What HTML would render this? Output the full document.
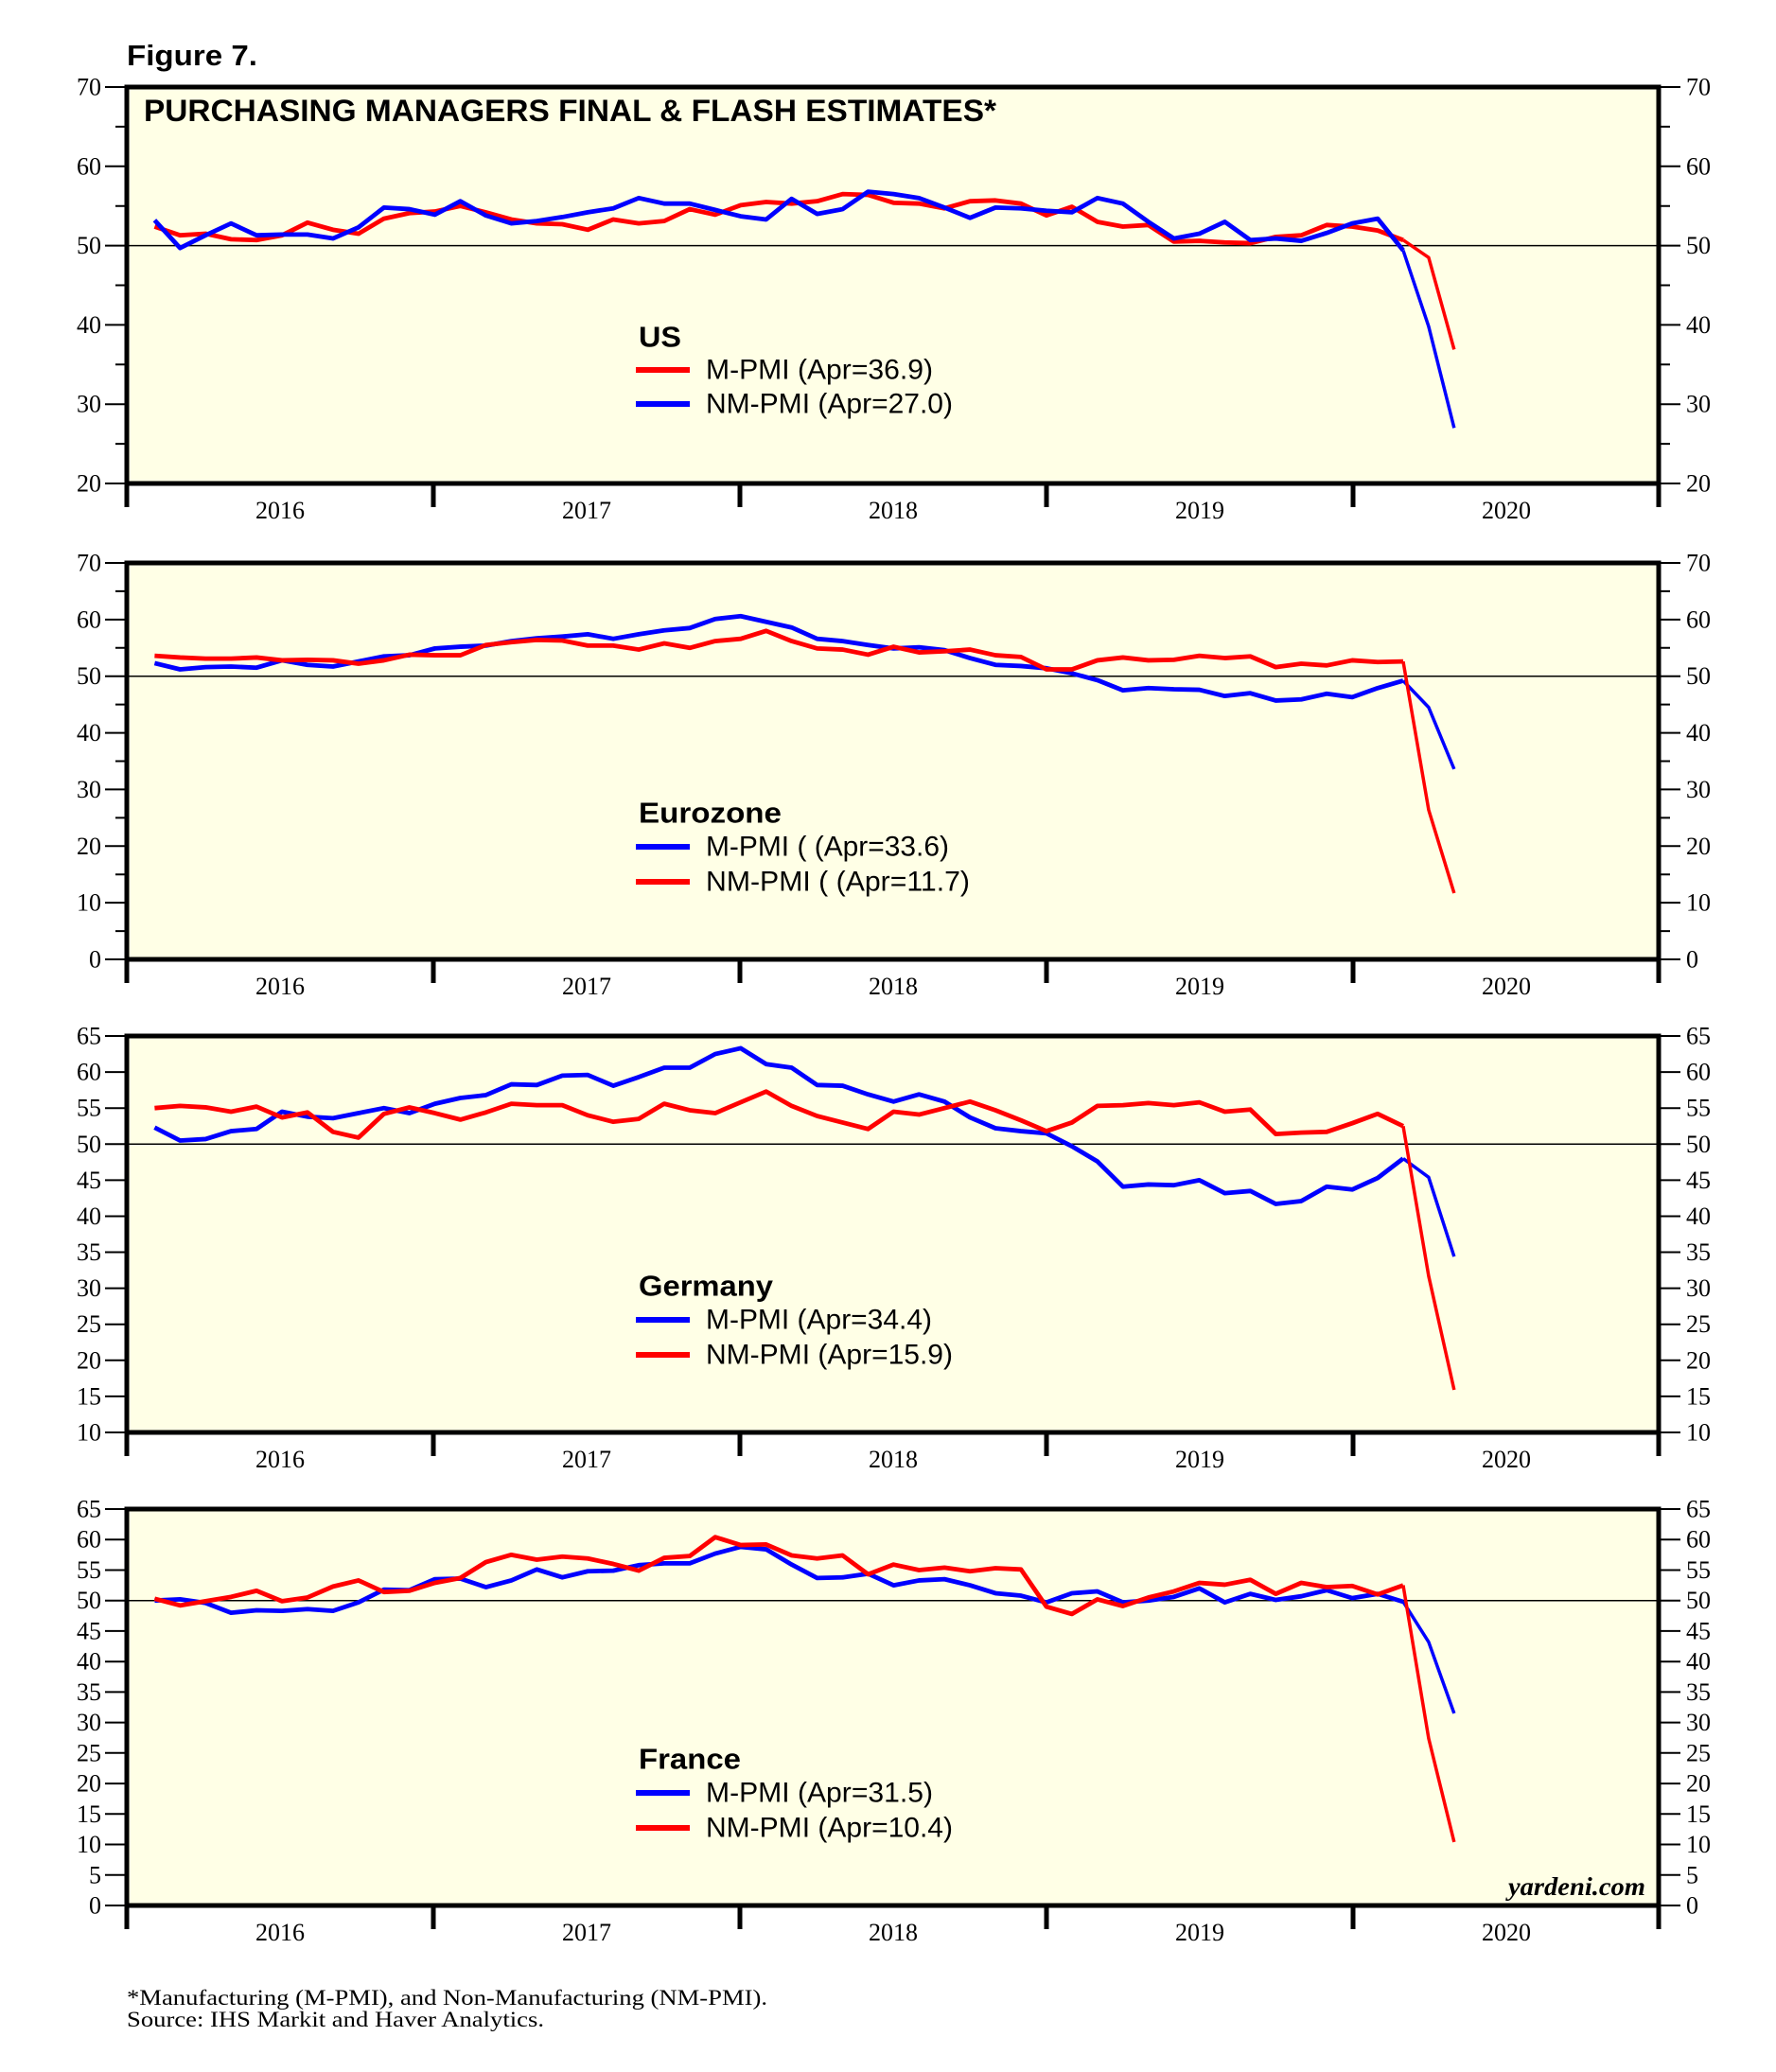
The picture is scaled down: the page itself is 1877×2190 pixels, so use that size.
<!DOCTYPE html>
<html><head><meta charset="utf-8"><style>
html,body{margin:0;padding:0;background:#fff;}
svg{display:block;}
.ax{font-family:"Liberation Serif",serif;font-size:26px;fill:#000;}
.lg{font-family:"Liberation Sans",sans-serif;font-size:30px;fill:#000;}
.lt{font-family:"Liberation Sans",sans-serif;font-size:31px;font-weight:bold;fill:#000;}
.s{fill:none;stroke-linejoin:round;stroke-linecap:butt;}
</style></head><body>
<svg width="1877" height="2190" viewBox="0 0 1877 2190" xmlns="http://www.w3.org/2000/svg">
<rect width="1877" height="2190" fill="#fff"/>
<text x="134" y="69" font-family="Liberation Sans, sans-serif" font-weight="bold" font-size="31" textLength="138" lengthAdjust="spacingAndGlyphs">Figure 7.</text>

<rect x="134" y="92" width="1619" height="419" fill="#FFFFE6"/>
<rect x="134" y="595" width="1619" height="419" fill="#FFFFE6"/>
<rect x="134" y="1095" width="1619" height="419" fill="#FFFFE6"/>
<rect x="134" y="1595" width="1619" height="419" fill="#FFFFE6"/>

<g stroke="#000" stroke-width="1.5">
<line x1="134" x2="1753" y1="259.6" y2="259.6"/>
<line x1="134" x2="1753" y1="714.7" y2="714.7"/>
<line x1="134" x2="1753" y1="1209.3" y2="1209.3"/>
<line x1="134" x2="1753" y1="1691.7" y2="1691.7"/>
</g>

<g transform="matrix(26.93 0 0 -8.38 163.4 678.6)">
<polyline class="s" vector-effect="non-scaling-stroke" stroke="#FF0000" stroke-width="4.8" points="0,52.4 1,51.3 2,51.5 3,50.8 4,50.7 5,51.3 6,52.9 7,52.0 8,51.5 9,53.4 10,54.1 11,54.3 12,55.0 13,54.2 14,53.3 15,52.8 16,52.7 17,52.0 18,53.3 19,52.8 20,53.1 21,54.6 22,53.9 23,55.1 24,55.5 25,55.3 26,55.6 27,56.5 28,56.4 29,55.4 30,55.3 31,54.7 32,55.6 33,55.7 34,55.3 35,53.8 36,54.9 37,53.0 38,52.4 39,52.6 40,50.5 41,50.6 42,50.4 43,50.3 44,51.1 45,51.3 46,52.6 47,52.4 48,51.9 49,50.7"/>
<polyline class="s" vector-effect="non-scaling-stroke" stroke="#FF0000" stroke-width="3.5" points="49,50.7 50,48.5 51,36.9"/>
<polyline class="s" vector-effect="non-scaling-stroke" stroke="#0000FF" stroke-width="4.8" points="0,53.2 1,49.7 2,51.3 3,52.8 4,51.3 5,51.4 6,51.4 7,50.9 8,52.3 9,54.8 10,54.6 11,53.9 12,55.6 13,53.8 14,52.8 15,53.1 16,53.6 17,54.2 18,54.7 19,56.0 20,55.3 21,55.3 22,54.5 23,53.7 24,53.3 25,55.9 26,54.0 27,54.6 28,56.8 29,56.5 30,56.0 31,54.8 32,53.5 33,54.8 34,54.7 35,54.4 36,54.2 37,56.0 38,55.3 39,53.0 40,50.9 41,51.5 42,53.0 43,50.7 44,50.9 45,50.6 46,51.6 47,52.8 48,53.4 49,49.4"/>
<polyline class="s" vector-effect="non-scaling-stroke" stroke="#0000FF" stroke-width="3.5" points="49,49.4 50,39.8 51,27.0"/>
</g>

<g transform="matrix(26.93 0 0 -5.986 163.4 1014)">
<polyline class="s" vector-effect="non-scaling-stroke" stroke="#0000FF" stroke-width="4.8" points="0,52.3 1,51.2 2,51.6 3,51.7 4,51.5 5,52.8 6,52.0 7,51.7 8,52.6 9,53.5 10,53.7 11,54.9 12,55.2 13,55.4 14,56.2 15,56.7 16,57.0 17,57.4 18,56.6 19,57.4 20,58.1 21,58.5 22,60.1 23,60.6 24,59.6 25,58.6 26,56.6 27,56.2 28,55.5 29,54.9 30,55.1 31,54.6 32,53.2 33,52.0 34,51.8 35,51.4 36,50.5 37,49.3 38,47.5 39,47.9 40,47.7 41,47.6 42,46.5 43,47.0 44,45.7 45,45.9 46,46.9 47,46.3 48,47.9 49,49.2"/>
<polyline class="s" vector-effect="non-scaling-stroke" stroke="#0000FF" stroke-width="3.5" points="49,49.2 50,44.5 51,33.6"/>
<polyline class="s" vector-effect="non-scaling-stroke" stroke="#FF0000" stroke-width="4.8" points="0,53.6 1,53.3 2,53.1 3,53.1 4,53.3 5,52.8 6,52.9 7,52.8 8,52.2 9,52.8 10,53.8 11,53.7 12,53.7 13,55.5 14,56.0 15,56.4 16,56.3 17,55.4 18,55.4 19,54.7 20,55.8 21,55.0 22,56.2 23,56.6 24,58.0 25,56.2 26,54.9 27,54.7 28,53.8 29,55.2 30,54.2 31,54.4 32,54.7 33,53.7 34,53.4 35,51.2 36,51.2 37,52.8 38,53.3 39,52.8 40,52.9 41,53.6 42,53.2 43,53.5 44,51.6 45,52.2 46,51.9 47,52.8 48,52.5 49,52.6"/>
<polyline class="s" vector-effect="non-scaling-stroke" stroke="#FF0000" stroke-width="3.5" points="49,52.6 50,26.4 51,11.7"/>
</g>

<g transform="matrix(26.93 0 0 -7.618 163.4 1590.18)">
<polyline class="s" vector-effect="non-scaling-stroke" stroke="#0000FF" stroke-width="4.8" points="0,52.3 1,50.5 2,50.7 3,51.8 4,52.1 5,54.5 6,53.8 7,53.6 8,54.3 9,55.0 10,54.3 11,55.6 12,56.4 13,56.8 14,58.3 15,58.2 16,59.5 17,59.6 18,58.1 19,59.3 20,60.6 21,60.6 22,62.5 23,63.3 24,61.1 25,60.6 26,58.2 27,58.1 28,56.9 29,55.9 30,56.9 31,55.9 32,53.7 33,52.2 34,51.8 35,51.5 36,49.7 37,47.6 38,44.1 39,44.4 40,44.3 41,45.0 42,43.2 43,43.5 44,41.7 45,42.1 46,44.1 47,43.7 48,45.3 49,48.0"/>
<polyline class="s" vector-effect="non-scaling-stroke" stroke="#0000FF" stroke-width="3.5" points="49,48.0 50,45.4 51,34.4"/>
<polyline class="s" vector-effect="non-scaling-stroke" stroke="#FF0000" stroke-width="4.8" points="0,55.0 1,55.3 2,55.1 3,54.5 4,55.2 5,53.7 6,54.4 7,51.7 8,50.9 9,54.2 10,55.1 11,54.3 12,53.4 13,54.4 14,55.6 15,55.4 16,55.4 17,54.0 18,53.1 19,53.5 20,55.6 21,54.7 22,54.3 23,55.8 24,57.3 25,55.3 26,53.9 27,53.0 28,52.1 29,54.5 30,54.1 31,55.0 32,55.9 33,54.7 34,53.3 35,51.8 36,53.0 37,55.3 38,55.4 39,55.7 40,55.4 41,55.8 42,54.5 43,54.8 44,51.4 45,51.6 46,51.7 47,52.9 48,54.2 49,52.5"/>
<polyline class="s" vector-effect="non-scaling-stroke" stroke="#FF0000" stroke-width="3.5" points="49,52.5 50,31.7 51,15.9"/>
</g>

<g transform="matrix(26.93 0 0 -6.446 163.4 2014)">
<polyline class="s" vector-effect="non-scaling-stroke" stroke="#0000FF" stroke-width="4.8" points="0,50.0 1,50.2 2,49.6 3,48.0 4,48.4 5,48.3 6,48.6 7,48.3 8,49.7 9,51.8 10,51.7 11,53.5 12,53.6 13,52.2 14,53.3 15,55.1 16,53.8 17,54.8 18,54.9 19,55.8 20,56.1 21,56.1 22,57.7 23,58.8 24,58.4 25,55.9 26,53.7 27,53.8 28,54.4 29,52.5 30,53.3 31,53.5 32,52.5 33,51.2 34,50.8 35,49.7 36,51.2 37,51.5 38,49.7 39,50.0 40,50.6 41,52.0 42,49.7 43,51.1 44,50.1 45,50.7 46,51.7 47,50.4 48,51.1 49,49.8"/>
<polyline class="s" vector-effect="non-scaling-stroke" stroke="#0000FF" stroke-width="3.5" points="49,49.8 50,43.2 51,31.5"/>
<polyline class="s" vector-effect="non-scaling-stroke" stroke="#FF0000" stroke-width="4.8" points="0,50.3 1,49.2 2,49.9 3,50.6 4,51.6 5,49.9 6,50.5 7,52.3 8,53.3 9,51.4 10,51.6 11,52.9 12,53.7 13,56.3 14,57.5 15,56.7 16,57.2 17,56.9 18,56.0 19,54.9 20,57.0 21,57.3 22,60.4 23,59.1 24,59.2 25,57.4 26,56.9 27,57.4 28,54.3 29,55.9 30,55.0 31,55.4 32,54.8 33,55.3 34,55.1 35,49.0 36,47.8 37,50.2 38,49.1 39,50.5 40,51.5 41,52.9 42,52.6 43,53.4 44,51.1 45,52.9 46,52.2 47,52.4 48,51.0 49,52.5"/>
<polyline class="s" vector-effect="non-scaling-stroke" stroke="#FF0000" stroke-width="3.5" points="49,52.5 50,27.4 51,10.4"/>
</g>

<g fill="none" stroke="#000" stroke-width="5">
<rect x="134" y="92" width="1619" height="419"/>
<rect x="134" y="595" width="1619" height="419"/>
<rect x="134" y="1095" width="1619" height="419"/>
<rect x="134" y="1595" width="1619" height="419"/>
</g>

<g stroke="#000" stroke-width="5">
<path d="M134 511V536M458 511V536M782 511V536M1106 511V536M1430 511V536M1753 511V536"/>
<path d="M134 1014V1039M458 1014V1039M782 1014V1039M1106 1014V1039M1430 1014V1039M1753 1014V1039"/>
<path d="M134 1514V1539M458 1514V1539M782 1514V1539M1106 1514V1539M1430 1514V1539M1753 1514V1539"/>
<path d="M134 2014V2039M458 2014V2039M782 2014V2039M1106 2014V2039M1430 2014V2039M1753 2014V2039"/>
</g>
<g class="ax" text-anchor="middle">
<text x="296" y="548">2016</text><text x="620" y="548">2017</text><text x="944" y="548">2018</text><text x="1268" y="548">2019</text><text x="1592" y="548">2020</text>
<text x="296" y="1051">2016</text><text x="620" y="1051">2017</text><text x="944" y="1051">2018</text><text x="1268" y="1051">2019</text><text x="1592" y="1051">2020</text>
<text x="296" y="1551">2016</text><text x="620" y="1551">2017</text><text x="944" y="1551">2018</text><text x="1268" y="1551">2019</text><text x="1592" y="1551">2020</text>
<text x="296" y="2051">2016</text><text x="620" y="2051">2017</text><text x="944" y="2051">2018</text><text x="1268" y="2051">2019</text><text x="1592" y="2051">2020</text>
</g>

<g stroke="#000" stroke-width="2">
<path d="M111 92H134M122 133.9H134M111 175.8H134M122 217.7H134M111 259.6H134M122 301.5H134M111 343.4H134M122 385.3H134M111 427.2H134M122 469.1H134M111 511H134"/>
<path d="M1753 92H1776M1753 133.9H1765M1753 175.8H1776M1753 217.7H1765M1753 259.6H1776M1753 301.5H1765M1753 343.4H1776M1753 385.3H1765M1753 427.2H1776M1753 469.1H1765M1753 511H1776"/>
<path d="M111 595H134M122 624.9H134M111 654.9H134M122 684.8H134M111 714.7H134M122 744.6H134M111 774.6H134M122 804.5H134M111 834.4H134M122 864.4H134M111 894.3H134M122 924.2H134M111 954.1H134M122 984.1H134M111 1014H134"/>
<path d="M1753 595H1776M1753 624.9H1765M1753 654.9H1776M1753 684.8H1765M1753 714.7H1776M1753 744.6H1765M1753 774.6H1776M1753 804.5H1765M1753 834.4H1776M1753 864.4H1765M1753 894.3H1776M1753 924.2H1765M1753 954.1H1776M1753 984.1H1765M1753 1014H1776"/>
<path d="M111 1095H134M111 1133.1H134M111 1171.2H134M111 1209.3H134M111 1247.4H134M111 1285.5H134M111 1323.5H134M111 1361.6H134M111 1399.7H134M111 1437.8H134M111 1475.9H134M111 1514H134"/>
<path d="M1753 1095H1776M1753 1133.1H1776M1753 1171.2H1776M1753 1209.3H1776M1753 1247.4H1776M1753 1285.5H1776M1753 1323.5H1776M1753 1361.6H1776M1753 1399.7H1776M1753 1437.8H1776M1753 1475.9H1776M1753 1514H1776"/>
<path d="M111 1595H134M111 1627.2H134M111 1659.5H134M111 1691.7H134M111 1723.9H134M111 1756.2H134M111 1788.4H134M111 1820.6H134M111 1852.8H134M111 1885.1H134M111 1917.3H134M111 1949.5H134M111 1981.8H134M111 2014H134"/>
<path d="M1753 1595H1776M1753 1627.2H1776M1753 1659.5H1776M1753 1691.7H1776M1753 1723.9H1776M1753 1756.2H1776M1753 1788.4H1776M1753 1820.6H1776M1753 1852.8H1776M1753 1885.1H1776M1753 1917.3H1776M1753 1949.5H1776M1753 1981.8H1776M1753 2014H1776"/>
</g>

<g class="ax" dominant-baseline="central">
<g text-anchor="end">
<text x="107" y="92">70</text><text x="107" y="175.8">60</text><text x="107" y="259.6">50</text><text x="107" y="343.4">40</text><text x="107" y="427.2">30</text><text x="107" y="511">20</text>
<text x="107" y="595">70</text><text x="107" y="654.9">60</text><text x="107" y="714.7">50</text><text x="107" y="774.6">40</text><text x="107" y="834.4">30</text><text x="107" y="894.3">20</text><text x="107" y="954.1">10</text><text x="107" y="1014">0</text>
<text x="107" y="1095">65</text><text x="107" y="1133.1">60</text><text x="107" y="1171.2">55</text><text x="107" y="1209.3">50</text><text x="107" y="1247.4">45</text><text x="107" y="1285.5">40</text><text x="107" y="1323.5">35</text><text x="107" y="1361.6">30</text><text x="107" y="1399.7">25</text><text x="107" y="1437.8">20</text><text x="107" y="1475.9">15</text><text x="107" y="1514">10</text>
<text x="107" y="1595">65</text><text x="107" y="1627.2">60</text><text x="107" y="1659.5">55</text><text x="107" y="1691.7">50</text><text x="107" y="1723.9">45</text><text x="107" y="1756.2">40</text><text x="107" y="1788.4">35</text><text x="107" y="1820.6">30</text><text x="107" y="1852.8">25</text><text x="107" y="1885.1">20</text><text x="107" y="1917.3">15</text><text x="107" y="1949.5">10</text><text x="107" y="1981.8">5</text><text x="107" y="2014">0</text>
</g>
<g text-anchor="start">
<text x="1782" y="92">70</text><text x="1782" y="175.8">60</text><text x="1782" y="259.6">50</text><text x="1782" y="343.4">40</text><text x="1782" y="427.2">30</text><text x="1782" y="511">20</text>
<text x="1782" y="595">70</text><text x="1782" y="654.9">60</text><text x="1782" y="714.7">50</text><text x="1782" y="774.6">40</text><text x="1782" y="834.4">30</text><text x="1782" y="894.3">20</text><text x="1782" y="954.1">10</text><text x="1782" y="1014">0</text>
<text x="1782" y="1095">65</text><text x="1782" y="1133.1">60</text><text x="1782" y="1171.2">55</text><text x="1782" y="1209.3">50</text><text x="1782" y="1247.4">45</text><text x="1782" y="1285.5">40</text><text x="1782" y="1323.5">35</text><text x="1782" y="1361.6">30</text><text x="1782" y="1399.7">25</text><text x="1782" y="1437.8">20</text><text x="1782" y="1475.9">15</text><text x="1782" y="1514">10</text>
<text x="1782" y="1595">65</text><text x="1782" y="1627.2">60</text><text x="1782" y="1659.5">55</text><text x="1782" y="1691.7">50</text><text x="1782" y="1723.9">45</text><text x="1782" y="1756.2">40</text><text x="1782" y="1788.4">35</text><text x="1782" y="1820.6">30</text><text x="1782" y="1852.8">25</text><text x="1782" y="1885.1">20</text><text x="1782" y="1917.3">15</text><text x="1782" y="1949.5">10</text><text x="1782" y="1981.8">5</text><text x="1782" y="2014">0</text>
</g>
</g>

<text x="152" y="128" font-family="Liberation Sans, sans-serif" font-weight="bold" font-size="32" textLength="901" lengthAdjust="spacingAndGlyphs">PURCHASING MANAGERS FINAL &amp; FLASH ESTIMATES*</text>

<g stroke-width="6">
<line x1="672" x2="729" y1="391" y2="391" stroke="#FF0000"/>
<line x1="672" x2="729" y1="427" y2="427" stroke="#0000FF"/>
<line x1="672" x2="729" y1="895" y2="895" stroke="#0000FF"/>
<line x1="672" x2="729" y1="932" y2="932" stroke="#FF0000"/>
<line x1="672" x2="729" y1="1395" y2="1395" stroke="#0000FF"/>
<line x1="672" x2="729" y1="1432" y2="1432" stroke="#FF0000"/>
<line x1="672" x2="729" y1="1895" y2="1895" stroke="#0000FF"/>
<line x1="672" x2="729" y1="1932" y2="1932" stroke="#FF0000"/>
</g>
<g dominant-baseline="central">
<text class="lt" x="675" y="356" textLength="45" lengthAdjust="spacingAndGlyphs">US</text>
<text class="lg" x="746" y="391" textLength="240" lengthAdjust="spacingAndGlyphs">M-PMI (Apr=36.9)</text>
<text class="lg" x="746" y="427" textLength="261" lengthAdjust="spacingAndGlyphs">NM-PMI (Apr=27.0)</text>
<text class="lt" x="675" y="859" textLength="151" lengthAdjust="spacingAndGlyphs">Eurozone</text>
<text class="lg" x="746" y="895" textLength="257" lengthAdjust="spacingAndGlyphs">M-PMI ( (Apr=33.6)</text>
<text class="lg" x="746" y="932" textLength="279" lengthAdjust="spacingAndGlyphs">NM-PMI ( (Apr=11.7)</text>
<text class="lt" x="675" y="1359" textLength="142" lengthAdjust="spacingAndGlyphs">Germany</text>
<text class="lg" x="746" y="1395" textLength="239" lengthAdjust="spacingAndGlyphs">M-PMI (Apr=34.4)</text>
<text class="lg" x="746" y="1432" textLength="261" lengthAdjust="spacingAndGlyphs">NM-PMI (Apr=15.9)</text>
<text class="lt" x="675" y="1859" textLength="108" lengthAdjust="spacingAndGlyphs">France</text>
<text class="lg" x="746" y="1895" textLength="240" lengthAdjust="spacingAndGlyphs">M-PMI (Apr=31.5)</text>
<text class="lg" x="746" y="1932" textLength="261" lengthAdjust="spacingAndGlyphs">NM-PMI (Apr=10.4)</text>
</g>

<text x="1739" y="2003" text-anchor="end" font-family="Liberation Serif, serif" font-style="italic" font-weight="bold" font-size="27" textLength="145" lengthAdjust="spacingAndGlyphs">yardeni.com</text>

<text x="134" y="2119" font-family="Liberation Serif, serif" font-size="23" textLength="677" lengthAdjust="spacingAndGlyphs">*Manufacturing (M-PMI), and Non-Manufacturing (NM-PMI).</text>
<text x="134" y="2142" font-family="Liberation Serif, serif" font-size="23" textLength="441" lengthAdjust="spacingAndGlyphs">Source: IHS Markit and Haver Analytics.</text>
</svg>
</body></html>
